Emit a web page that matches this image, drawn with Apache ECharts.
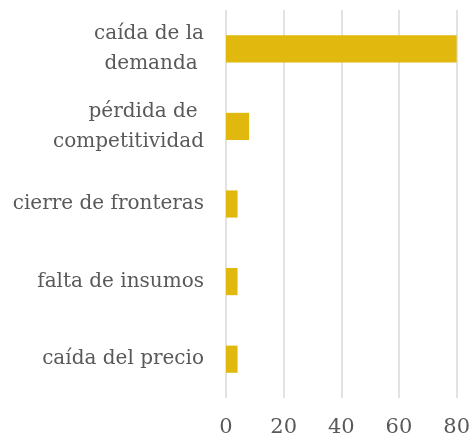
<!DOCTYPE html>
<html>
<head>
<meta charset="utf-8">
<script src="https://cdn.jsdelivr.net/npm/echarts@6/dist/echarts.min.js"></script>
<style>
  html, body { margin: 0; padding: 0; background: #fff; }
  #chart { width: 473px; height: 442px; }
</style>
</head>
<body>
<div id="chart"></div>
<script>
// categories, top to bottom
const categories = [
  'caída de la\ndemanda ',
  'pérdida de \ncompetitividad',
  'cierre de fronteras',
  'falta de insumos',
  'caída del precio'
]
const values = [80, 8, 4, 4, 4]
const xTicks = [0, 20, 40, 60, 80]

const chart = echarts.init(document.getElementById('chart'))

const option = {
  animation: false,
  grid: {
    left: 226,
    right: 13,
    top: 10,
    bottom: 44
  },
  xAxis: {
    type: 'value',
    min: xTicks[0],
    max: xTicks[xTicks.length - 1],
    interval: 20,
    axisLine: { show: false },
    axisTick: { show: false },
    axisLabel: {
      color: '#595959',
      fontFamily: 'DejaVu Serif',
      fontSize: 21,
      margin: 19
    },
    splitLine: { lineStyle: { color: '#d9d9d9', width: 1.5 } }
  },
  yAxis: {
    type: 'category',
    inverse: true,
    data: categories,
    axisLine: { show: false },
    axisTick: { show: false },
    axisLabel: {
      color: '#595959',
      fontFamily: 'DejaVu Serif',
      fontSize: 20,
      lineHeight: 30,
      align: 'right',
      margin: 22
    }
  },
  series: [
    {
      type: 'bar',
      data: values,
      barWidth: '35%',
      itemStyle: { color: '#e1b80d' }
    }
  ]
}

chart.setOption(option)
</script>
</body>
</html>
